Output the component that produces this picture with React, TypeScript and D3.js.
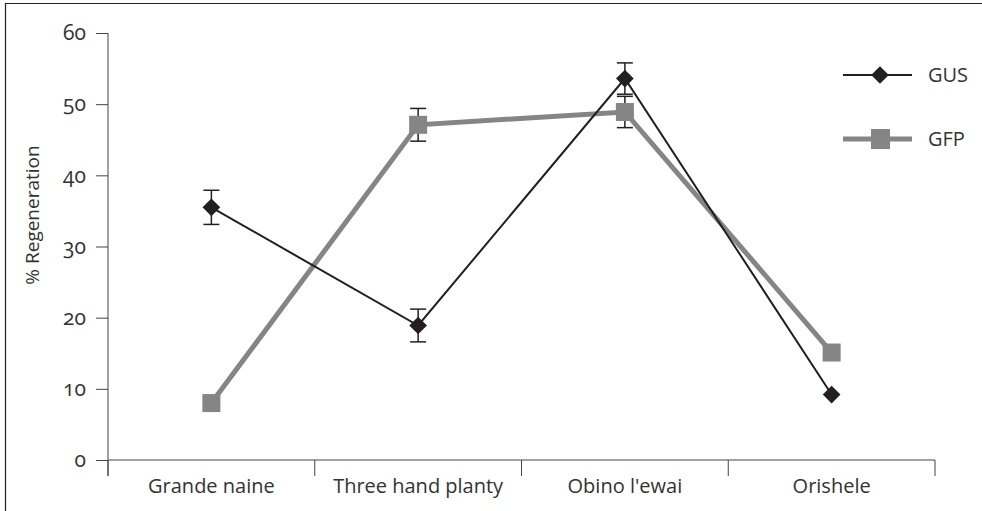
import React, { useEffect, useRef } from 'react';
import * as d3 from 'd3';

const categories = ['Grande naine', 'Three hand planty', "Obino l'ewai", 'Orishele'];
const gusValues = [35.5, 18.9, 53.6, 9.2];
const gusErrors = [2.4, 2.3, 2.2, 0];
const gfpValues = [8.0, 47.1, 48.9, 15.1];
const gfpErrors = [0, 2.3, 2.2, 0];
const yTicks = [0, 10, 20, 30, 40, 50, 60];

const W = 982;
const H = 511;
const FONT = "'Open Sans', 'Noto Sans', sans-serif";
const DARK = '#231f20';
const GREY = '#858585';

const App: React.FC = () => {
  const svgRef = useRef<SVGSVGElement>(null);

  useEffect(() => {
    if (!svgRef.current) return;
    const svg = d3.select(svgRef.current);
    svg.selectAll('*').remove();

    const left = 108;
    const right = 935;
    const top = 33;
    const bottom = 460;

    const x = d3.scaleBand<string>().domain(categories).range([left, right]);
    const y = d3.scaleLinear().domain([0, 60]).range([bottom, top]);
    const cx = (c: string) => (x(c) as number) + x.bandwidth() / 2;

    // partial frame (top + left)
    svg.append('path')
      .attr('d', `M5.5,${H} V3.5 H${W}`)
      .attr('fill', 'none')
      .attr('stroke', DARK)
      .attr('stroke-width', 1.2);

    // y axis
    const yAxis = svg.append('g')
      .attr('transform', `translate(${left},0)`)
      .call(d3.axisLeft(y).tickValues(yTicks).tickSize(12).tickPadding(10));
    yAxis.select('.domain').attr('stroke', '#444').attr('d', `M0,${top}V${bottom + 16}`);
    yAxis.selectAll('line').attr('stroke', '#444');
    yAxis.selectAll('text')
      .attr('fill', '#333')
      .style('font-family', FONT)
      .style('font-size', '21px')
      .style('font-variant-numeric', 'oldstyle-nums');

    // x axis
    const xAxis = svg.append('g')
      .attr('transform', `translate(0,${bottom})`)
      .call(d3.axisBottom(x).tickSize(0).tickPadding(19));
    xAxis.select('.domain').attr('stroke', '#444').attr('d', `M${left},0H${right}`);
    xAxis.selectAll('text')
      .attr('fill', '#333')
      .style('font-family', FONT)
      .style('font-size', '20px');
    const bounds = [...categories.map((c) => x(c) as number), right];
    svg.append('g')
      .selectAll('line')
      .data(bounds)
      .enter()
      .append('line')
      .attr('x1', (d) => d)
      .attr('x2', (d) => d)
      .attr('y1', bottom)
      .attr('y2', bottom + 16)
      .attr('stroke', '#444');

    // y title
    svg.append('text')
      .attr('transform', `translate(39,215) rotate(-90)`)
      .attr('text-anchor', 'middle')
      .style('font-family', FONT)
      .style('font-size', '19px')
      .attr('fill', '#333')
      .text('% Regeneration');

    const line = d3.line<number>()
      .x((_, i) => cx(categories[i]))
      .y((d) => y(d));

    // GFP series
    svg.append('path')
      .datum(gfpValues)
      .attr('d', line)
      .attr('fill', 'none')
      .attr('stroke', GREY)
      .attr('stroke-width', 5);

    // GUS series
    svg.append('path')
      .datum(gusValues)
      .attr('d', line)
      .attr('fill', 'none')
      .attr('stroke', DARK)
      .attr('stroke-width', 2);

    const errBars = (vals: number[], errs: number[]) => {
      const g = svg.append('g');
      vals.forEach((v, i) => {
        if (!errs[i]) return;
        const px = cx(categories[i]);
        g.append('line').attr('x1', px).attr('x2', px).attr('y1', y(v + errs[i])).attr('y2', y(v - errs[i]));
        g.append('line').attr('x1', px - 8).attr('x2', px + 8).attr('y1', y(v + errs[i])).attr('y2', y(v + errs[i]));
        g.append('line').attr('x1', px - 8).attr('x2', px + 8).attr('y1', y(v - errs[i])).attr('y2', y(v - errs[i]));
      });
      g.selectAll('line').attr('stroke', DARK).attr('stroke-width', 1.5);
    };

    errBars(gfpValues, gfpErrors);
    svg.append('g')
      .selectAll('rect')
      .data(gfpValues)
      .enter()
      .append('rect')
      .attr('x', (_, i) => cx(categories[i]) - 9)
      .attr('y', (d) => y(d) - 9)
      .attr('width', 18)
      .attr('height', 18)
      .attr('fill', GREY);

    errBars(gusValues, gusErrors);
    const diamond = d3.symbol().type(d3.symbolDiamond2).size(200);
    svg.append('g')
      .selectAll('path')
      .data(gusValues)
      .enter()
      .append('path')
      .attr('d', diamond as any)
      .attr('transform', (d, i) => `translate(${cx(categories[i])},${y(d)})`)
      .attr('fill', DARK);

    // legend
    const legend = [
      { label: 'GUS', color: DARK, width: 2, shape: 'diamond', yPos: 75 },
      { label: 'GFP', color: GREY, width: 5, shape: 'square', yPos: 139 },
    ];
    const lg = svg.append('g');
    legend.forEach((d) => {
      lg.append('line')
        .attr('x1', 843).attr('x2', 912)
        .attr('y1', d.yPos).attr('y2', d.yPos)
        .attr('stroke', d.color).attr('stroke-width', d.width);
      if (d.shape === 'diamond') {
        lg.append('path')
          .attr('d', diamond as any)
          .attr('transform', `translate(880,${d.yPos})`)
          .attr('fill', d.color);
      } else {
        lg.append('rect')
          .attr('x', 871).attr('y', d.yPos - 10)
          .attr('width', 19).attr('height', 20)
          .attr('fill', d.color);
      }
      lg.append('text')
        .attr('x', 928).attr('y', d.yPos)
        .attr('dy', '0.35em')
        .style('font-family', FONT)
        .style('font-size', '20px')
        .attr('fill', '#333')
        .text(d.label);
    });
  }, []);

  return (
    <svg
      ref={svgRef}
      width={W}
      height={H}
      style={{ position: 'absolute', left: 0, top: 0, background: '#fff' }}
    />
  );
};

export default App;
